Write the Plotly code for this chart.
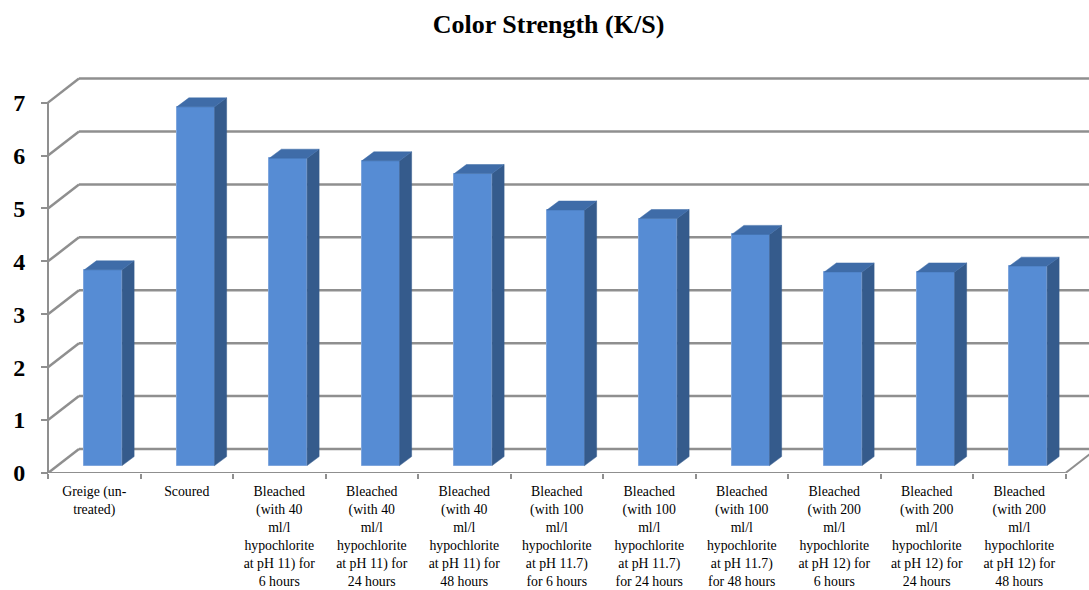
import plotly.graph_objects as go

# Colour strength (K/S) for each fabric treatment
categories = [
    "Greige (un-<br>treated)",
    "Scoured",
    "Bleached<br>(with 40<br>ml/l<br>hypochlorite<br>at pH 11) for<br>6 hours",
    "Bleached<br>(with 40<br>ml/l<br>hypochlorite<br>at pH 11) for<br>24 hours",
    "Bleached<br>(with 40<br>ml/l<br>hypochlorite<br>at pH 11) for<br>48 hours",
    "Bleached<br>(with 100<br>ml/l<br>hypochlorite<br>at pH 11.7)<br>for 6 hours",
    "Bleached<br>(with 100<br>ml/l<br>hypochlorite<br>at pH 11.7)<br>for 24 hours",
    "Bleached<br>(with 100<br>ml/l<br>hypochlorite<br>at pH 11.7)<br>for 48 hours",
    "Bleached<br>(with 200<br>ml/l<br>hypochlorite<br>at pH 12) for<br>6 hours",
    "Bleached<br>(with 200<br>ml/l<br>hypochlorite<br>at pH 12) for<br>24 hours",
    "Bleached<br>(with 200<br>ml/l<br>hypochlorite<br>at pH 12) for<br>48 hours",
]
ks_values = [3.70, 6.78, 5.81, 5.76, 5.52, 4.83, 4.67, 4.37, 3.66, 3.66, 3.77]
y_ticks = [0, 1, 2, 3, 4, 5, 6, 7]

# Pseudo-3D geometry (in axis units)
WALL_DX, WALL_DY = 0.335, 0.454     # depth offset of the back wall
BAR_SHIFT_X, BAR_BASE = 0.097, 0.14  # front face of bars sits partway into the floor
BAR_W = 0.408
BAR_DX, BAR_DY = 0.13, 0.17          # depth of each bar

FRONT = "#568CD4"
SIDE = "#355B8C"
TOP = "#3F6CA8"
GRID = "#8F8F8F"
SERIF = "'Liberation Serif', 'Times New Roman', Tinos, 'DejaVu Serif', serif"

n = len(ks_values)
idx = list(range(n))
x_left = -0.5
x_right = n - 0.5

fig = go.Figure()

# front faces of the bars
fig.add_trace(go.Bar(
    x=[i + BAR_SHIFT_X for i in idx],
    y=ks_values,
    base=BAR_BASE,
    width=BAR_W,
    marker=dict(color=FRONT, line=dict(color="#7FA6DD", width=1)),
    hovertext=[c.replace("<br>", " ") for c in categories],
    hovertemplate="%{hovertext}: %{y}<extra></extra>",
))

# side and top faces
side_x, side_y, top_x, top_y = [], [], [], []
for i, v in zip(idx, ks_values):
    xl = i + BAR_SHIFT_X - BAR_W / 2
    xr = i + BAR_SHIFT_X + BAR_W / 2
    b = BAR_BASE
    t = BAR_BASE + v
    side_x += [xr, xr, xr + BAR_DX, xr + BAR_DX, xr, None]
    side_y += [b, t, t + BAR_DY, b + BAR_DY, b, None]
    top_x += [xl, xr, xr + BAR_DX, xl + BAR_DX, xl, None]
    top_y += [t, t, t + BAR_DY, t + BAR_DY, t, None]

fig.add_trace(go.Scatter(x=side_x, y=side_y, mode="lines", fill="toself",
                         fillcolor=SIDE, line=dict(color=SIDE, width=0.5),
                         hoverinfo="skip"))
fig.add_trace(go.Scatter(x=top_x, y=top_y, mode="lines", fill="toself",
                         fillcolor=TOP, line=dict(color=TOP, width=0.5),
                         hoverinfo="skip"))

# walls, floor and gridlines behind the bars
shapes = []
for v in y_ticks:
    shapes.append(dict(type="line", xref="x", yref="y", layer="below",
                       x0=x_left, y0=v, x1=x_left + WALL_DX, y1=v + WALL_DY,
                       line=dict(color=GRID, width=2.5)))
    shapes.append(dict(type="line", xref="x", yref="y", layer="below",
                       x0=x_left + WALL_DX, y0=v + WALL_DY, x1=n + 2, y1=v + WALL_DY,
                       line=dict(color=GRID, width=2.5)))
shapes.append(dict(type="line", xref="x", yref="y", layer="below",
                   x0=x_left, y0=0, x1=x_left, y1=max(y_ticks),
                   line=dict(color=GRID, width=2)))
shapes.append(dict(type="line", xref="x", yref="y", layer="below",
                   x0=x_left, y0=0, x1=x_right, y1=0,
                   line=dict(color=GRID, width=2)))
shapes.append(dict(type="line", xref="x", yref="y", layer="below",
                   x0=x_right, y0=0, x1=x_right + WALL_DX, y1=WALL_DY,
                   line=dict(color=GRID, width=2)))

W, H = 1089, 590
ML, MR, MT, MB = 40, 0, 70, 117
unit_x = 92.5
unit_y = 52.91
plot_w = W - ML - MR
plot_h = H - MT - MB
x_range = [x_left - 8 / unit_x, x_left - 8 / unit_x + plot_w / unit_x]
y_range = [0, plot_h / unit_y]

fig.update_layout(
    width=W, height=H,
    margin=dict(l=ML, r=MR, t=MT, b=MB, pad=0, autoexpand=False),
    paper_bgcolor="white", plot_bgcolor="white",
    showlegend=False,
    bargap=0,
    shapes=shapes,
    title=dict(text="<b>Color Strength (K/S)</b>", x=548.5 / W, xanchor="center",
               y=1 - 24 / H, yanchor="middle", automargin=False,
               font=dict(family=SERIF, size=26, color="black")),
    xaxis=dict(
        range=x_range, showgrid=False, zeroline=False, showline=False,
        automargin=False,
        tickmode="array", tickvals=idx, ticktext=categories,
        ticks="", tickangle=0,
        tickfont=dict(family=SERIF, size=13.8, color="black"),
        minor=dict(tickmode="array", tickvals=[x_left + k for k in range(n + 1)],
                   ticks="outside", ticklen=5, tickwidth=1.5, tickcolor=GRID),
        ticklabelstandoff=8,
        fixedrange=True,
    ),
    yaxis=dict(
        range=y_range, showgrid=False, zeroline=False, showline=False,
        automargin=False,
        anchor="free", position=8 / plot_w,
        tickmode="array", tickvals=y_ticks,
        ticks="outside", ticklen=7, tickwidth=2, tickcolor=GRID,
        tickfont=dict(family=SERIF, size=24, color="black", weight="bold"),
        ticklabelstandoff=11,
        fixedrange=True,
    ),
)

fig.write_html("out.html")
